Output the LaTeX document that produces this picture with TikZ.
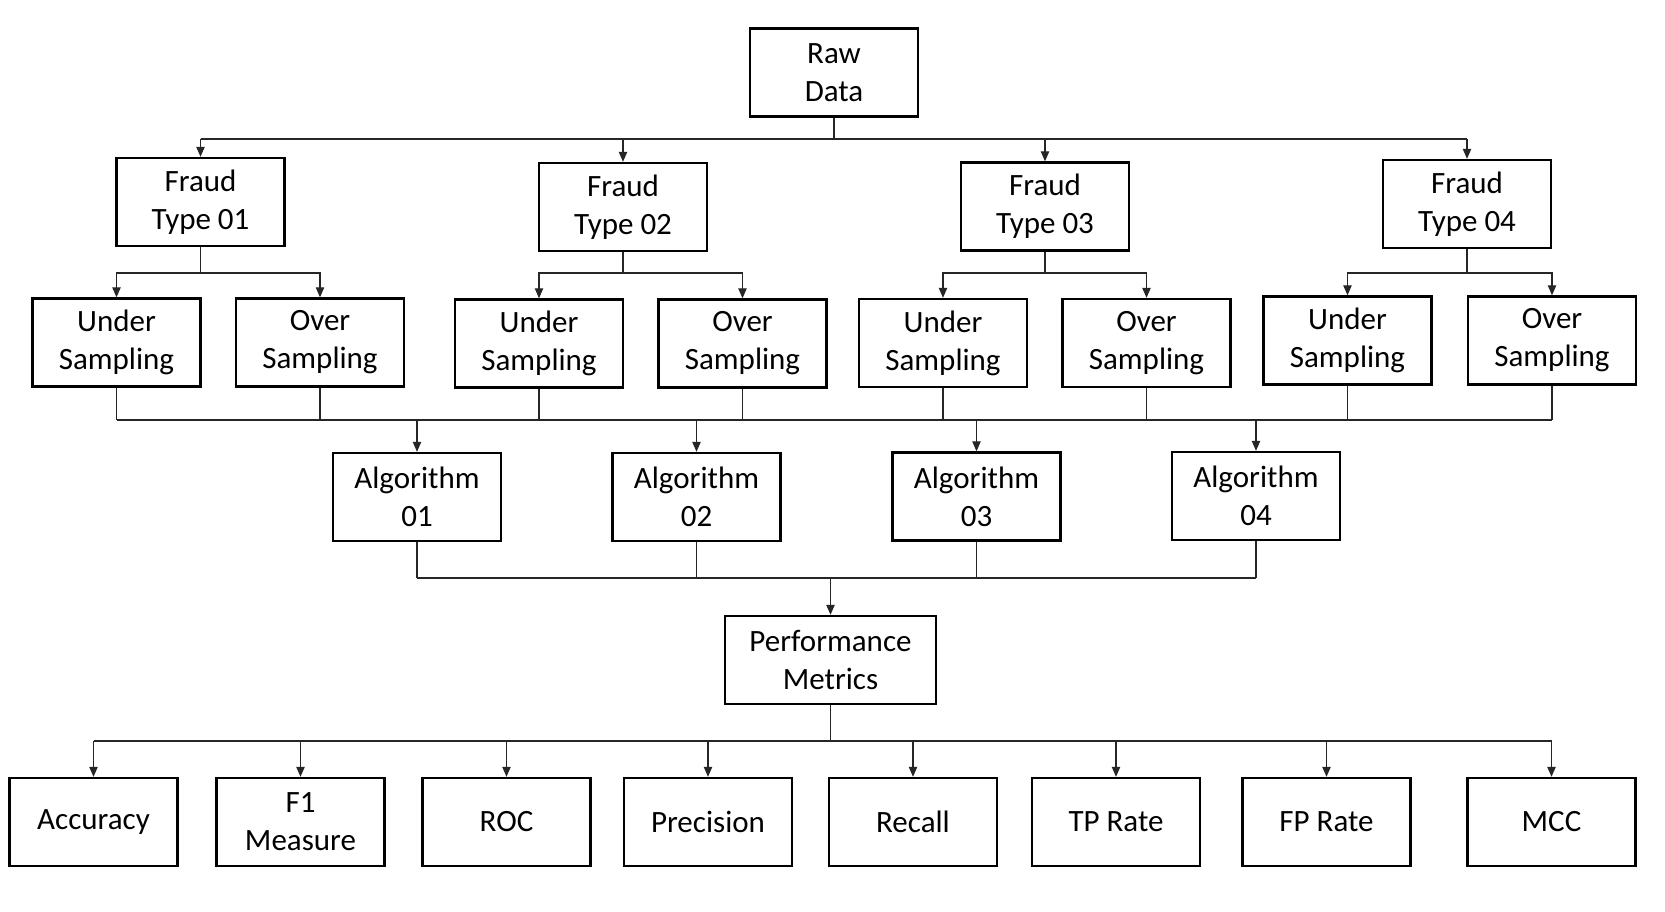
\documentclass[tikz,border=0pt]{standalone}
\usepackage{fontspec}
\setmainfont{Carlito}
\usetikzlibrary{arrows.meta}
\begin{document}
\begin{tikzpicture}[x=0.5pt,y=-0.5pt,
  box/.style={draw=black,line width=1.2pt,minimum width=84pt,minimum height=44pt,inner sep=0pt,align=center,font=\fontsize{15.5}{19}\selectfont},
  conn/.style={draw=black!85,line width=0.55pt},
  arr/.style={conn,-{Triangle[length=5pt,width=4.2pt]}}]
\useasboundingbox (0,0) rectangle (1665,911);
% nodes
\node[box] (raw) at (834,72.5) {Raw\\Data};
\node[box] (f1) at (200.5,202) {Fraud\\Type 01};
\node[box] (f2) at (623,207) {Fraud\\Type 02};
\node[box] (f3) at (1045,206.5) {Fraud\\Type 03};
\node[box] (f4) at (1467,204) {Fraud\\Type 04};
\node[box] (u1) at (116.5,342.5) {Under\\Sampling};
\node[box] (o1) at (320,342.5) {Over\\Sampling};
\node[box] (u2) at (539,343.5) {Under\\Sampling};
\node[box] (o2) at (742.5,343.5) {Over\\Sampling};
\node[box] (u3) at (943,343) {Under\\Sampling};
\node[box] (o3) at (1146.5,343) {Over\\Sampling};
\node[box] (u4) at (1347.5,340.5) {Under\\Sampling};
\node[box] (o4) at (1552,340.5) {Over\\Sampling};
\node[box] (a1) at (417,497) {Algorithm\\01};
\node[box] (a2) at (696.5,497) {Algorithm\\02};
\node[box] (a3) at (976.5,496.5) {Algorithm\\03};
\node[box] (a4) at (1256,496) {Algorithm\\04};
\node[box,minimum width=105.5pt] (perf) at (830.5,660) {Performance\\Metrics};
\node[box] (m1) at (93.5,822) {Accuracy};
\node[box] (m2) at (300.5,822) {F1\\Measure};
\node[box] (m3) at (506.5,822) {ROC};
\node[box] (m4) at (708,822) {Precision};
\node[box] (m5) at (913,822) {Recall};
\node[box] (m6) at (1116,822) {TP Rate};
\node[box] (m7) at (1326.5,822) {FP Rate};
\node[box] (m8) at (1551.5,822) {MCC};
% bus levels
\coordinate (busR) at (0,139);
\coordinate (busF) at (0,273);
\coordinate (busS) at (0,420);
\coordinate (busA) at (0,578);
\coordinate (busM) at (0,741);
% raw -> fraud types
\draw[conn] (raw.south) -- (raw.south |- busR);
\draw[conn] (f1.north |- busR) -- (f4.north |- busR);
\foreach \f in {f1,f2,f3,f4} \draw[arr] (\f.north |- busR) -- (\f.north);
% fraud -> sampling
\foreach \f/\u/\o in {f1/u1/o1,f2/u2/o2,f3/u3/o3,f4/u4/o4}{
  \draw[conn] (\f.south) -- (\f.south |- busF);
  \draw[arr] (\f.south |- busF) -| (\u.north);
  \draw[arr] (\f.south |- busF) -| (\o.north);
}
% sampling -> algorithms
\foreach \s in {u1,o1,u2,o2,u3,o3,u4,o4} \draw[conn] (\s.south) -- (\s.south |- busS);
\draw[conn] (u1.south |- busS) -- (o4.south |- busS);
\foreach \a in {a1,a2,a3,a4} \draw[arr] (\a.north |- busS) -- (\a.north);
% algorithms -> performance
\foreach \a in {a1,a2,a3,a4} \draw[conn] (\a.south) -- (\a.south |- busA);
\draw[conn] (a1.south |- busA) -- (a4.south |- busA);
\draw[arr] (perf.north |- busA) -- (perf.north);
% performance -> metrics
\draw[conn] (perf.south) -- (perf.south |- busM);
\draw[conn] (m1.north |- busM) -- (m8.north |- busM);
\foreach \m in {m1,m2,m3,m4,m5,m6,m7,m8} \draw[arr] (\m.north |- busM) -- (\m.north);
\end{tikzpicture}
\end{document}
